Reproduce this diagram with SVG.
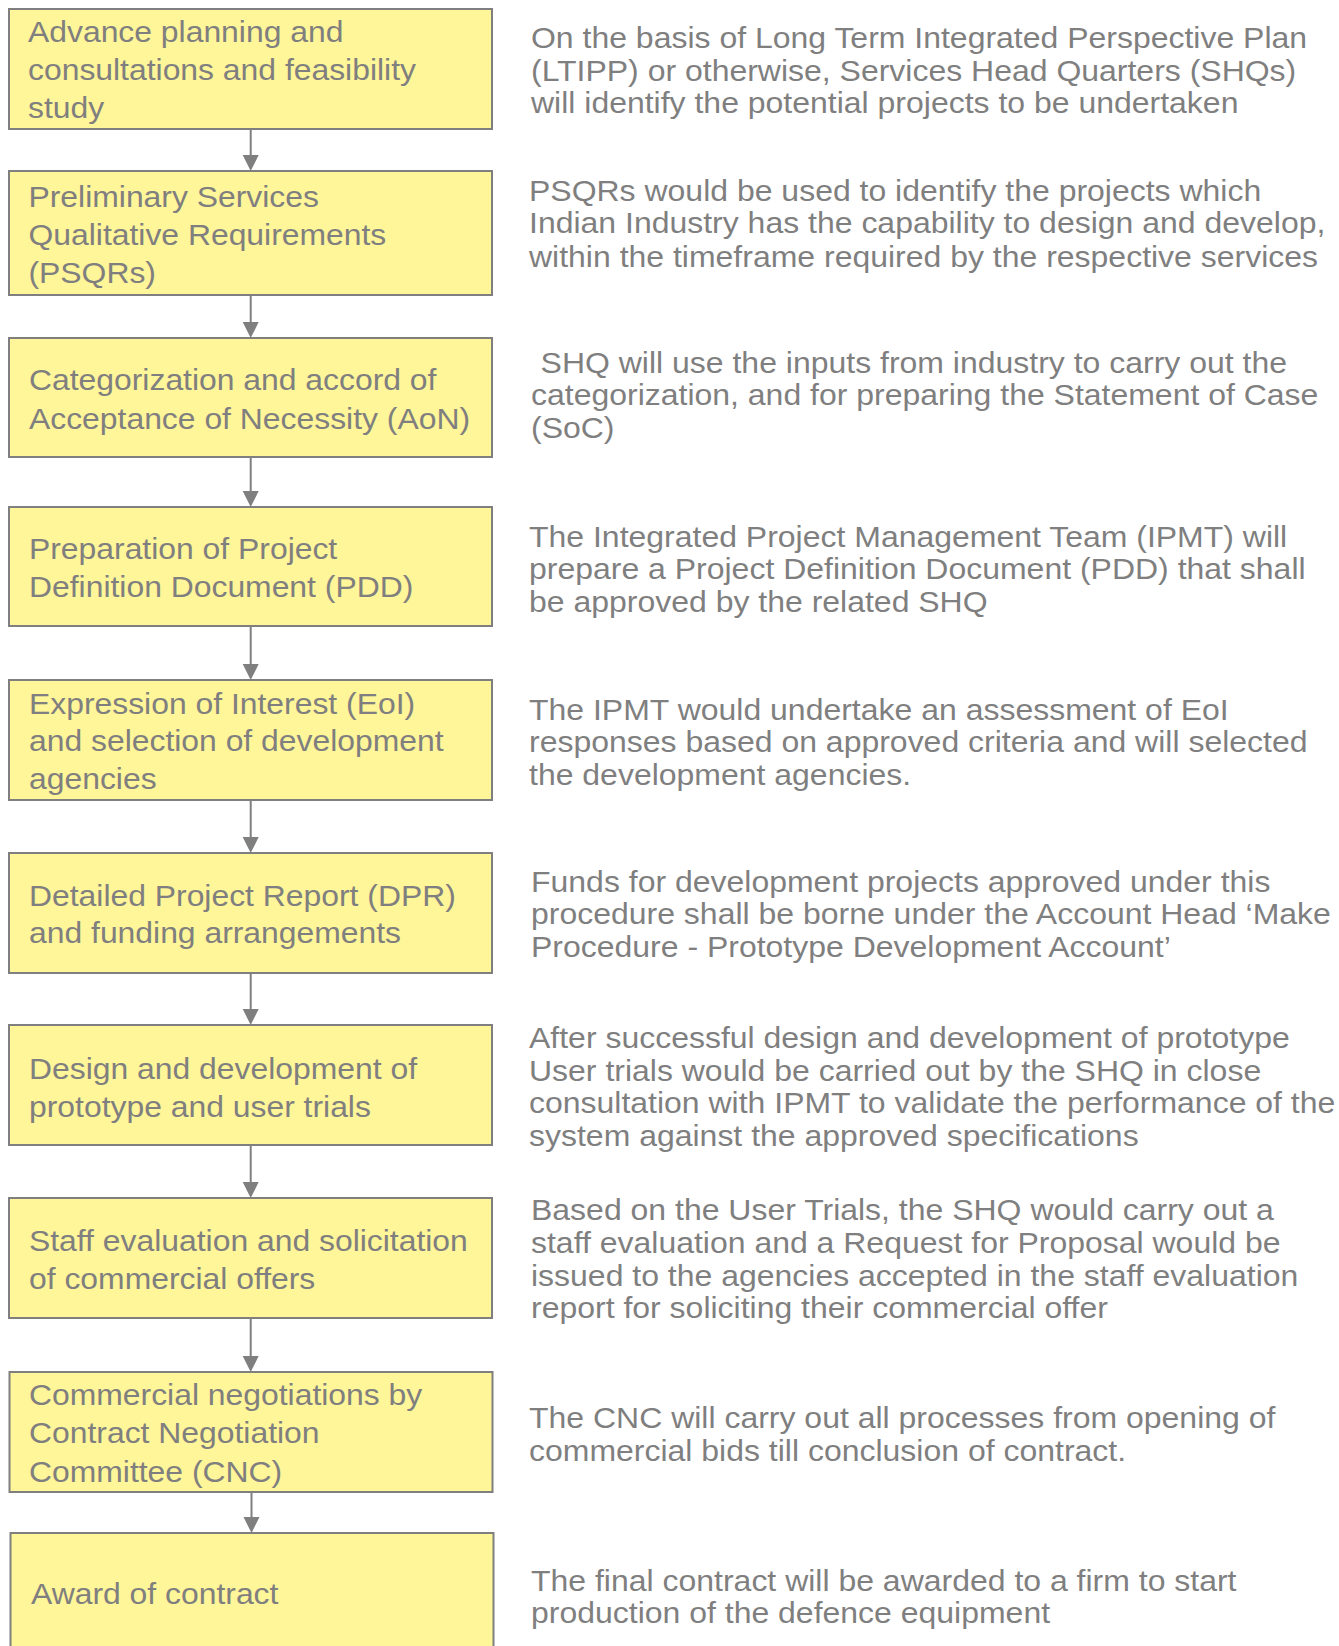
<svg xmlns="http://www.w3.org/2000/svg" width="1339" height="1646" viewBox="0 0 1339 1646">
<defs>
<style>
.box{fill:#FFF599;stroke:#7f7f7f;stroke-width:2}
.t{font-family:"Liberation Sans",Arial,sans-serif;font-size:30px;fill:#7f7f7f}
.c{stroke:#7f7f7f;stroke-width:2;fill:none}
.h{fill:#7f7f7f}
</style>
</defs>
<rect width="1339" height="1646" fill="#ffffff"/>
<g id="connectors">
<line class="c" x1="250.7" y1="129" x2="250.7" y2="157"/><path class="h" d="M242.7 155 L258.7 155 L250.7 171 Z"/>
<line class="c" x1="250.7" y1="295" x2="250.7" y2="324"/><path class="h" d="M242.7 322 L258.7 322 L250.7 338 Z"/>
<line class="c" x1="250.7" y1="457" x2="250.7" y2="493"/><path class="h" d="M242.7 491 L258.7 491 L250.7 507 Z"/>
<line class="c" x1="250.7" y1="626" x2="250.7" y2="666"/><path class="h" d="M242.7 664 L258.7 664 L250.7 680 Z"/>
<line class="c" x1="250.7" y1="800" x2="250.7" y2="839"/><path class="h" d="M242.7 837 L258.7 837 L250.7 853 Z"/>
<line class="c" x1="250.7" y1="973" x2="250.7" y2="1011"/><path class="h" d="M242.7 1009 L258.7 1009 L250.7 1025 Z"/>
<line class="c" x1="250.7" y1="1145" x2="250.7" y2="1184"/><path class="h" d="M242.7 1182 L258.7 1182 L250.7 1198 Z"/>
<line class="c" x1="250.7" y1="1318" x2="250.7" y2="1358"/><path class="h" d="M242.7 1356 L258.7 1356 L250.7 1372 Z"/>
<line class="c" x1="251.5" y1="1492" x2="251.5" y2="1519"/><path class="h" d="M243.5 1517 L259.5 1517 L251.5 1533 Z"/>
</g>
<g id="n1"><rect class="box" x="9" y="9" width="483" height="120"/>
<text class="t" transform="matrix(1.063 0 0 1 28 0)"><tspan x="0" y="41.7">Advance planning and</tspan><tspan x="0" y="80">consultations and feasibility</tspan><tspan x="0" y="118.3">study</tspan></text></g>
<g id="d1"><text class="t" transform="matrix(1.066 0 0 1 531 0)"><tspan x="0" y="48.4">On the basis of Long Term Integrated Perspective Plan</tspan><tspan x="0" y="81">(LTIPP) or otherwise, Services Head Quarters (SHQs)</tspan><tspan x="0" y="113.5">will identify the potential projects to be undertaken</tspan></text></g>

<g id="n2"><rect class="box" x="9" y="171" width="483" height="124"/>
<text class="t" transform="matrix(1.063 0 0 1 28.5 0)"><tspan x="0" y="207">Preliminary Services</tspan><tspan x="0" y="245">Qualitative Requirements</tspan><tspan x="0" y="283">(PSQRs)</tspan></text></g>
<g id="d2"><text class="t" transform="matrix(1.066 0 0 1 529 0)"><tspan x="0" y="200.6">PSQRs would be used to identify the projects which</tspan><tspan x="0" y="233.2">Indian Industry has the capability to design and develop,</tspan><tspan x="0" y="266.7">within the timeframe required by the respective services</tspan></text></g>

<g id="n3"><rect class="box" x="9" y="338" width="483" height="119"/>
<text class="t" transform="matrix(1.063 0 0 1 29 0)"><tspan x="0" y="390.4">Categorization and accord of</tspan><tspan x="0" y="429">Acceptance of Necessity (AoN)</tspan></text></g>
<g id="d3"><text class="t" transform="matrix(1.066 0 0 1 531 0)"><tspan x="9" y="373">SHQ will use the inputs from industry to carry out the</tspan><tspan x="0" y="405.5">categorization, and for preparing the Statement of Case</tspan><tspan x="0" y="438">(SoC)</tspan></text></g>

<g id="n4"><rect class="box" x="9" y="507" width="483" height="119"/>
<text class="t" transform="matrix(1.063 0 0 1 29 0)"><tspan x="0" y="559.3">Preparation of Project</tspan><tspan x="0" y="597.1">Definition Document (PDD)</tspan></text></g>
<g id="d4"><text class="t" transform="matrix(1.066 0 0 1 529 0)"><tspan x="0" y="547">The Integrated Project Management Team (IPMT) will</tspan><tspan x="0" y="579.5">prepare a Project Definition Document (PDD) that shall</tspan><tspan x="0" y="612">be approved by the related SHQ</tspan></text></g>

<g id="n5"><rect class="box" x="9" y="680" width="483" height="120"/>
<text class="t" transform="matrix(1.063 0 0 1 29 0)"><tspan x="0" y="713.6">Expression of Interest (EoI)</tspan><tspan x="0" y="751.4">and selection of development</tspan><tspan x="0" y="789.3">agencies</tspan></text></g>
<g id="d5"><text class="t" transform="matrix(1.066 0 0 1 529 0)"><tspan x="0" y="720">The IPMT would undertake an assessment of EoI</tspan><tspan x="0" y="752.5">responses based on approved criteria and will selected</tspan><tspan x="0" y="785">the development agencies.</tspan></text></g>

<g id="n6"><rect class="box" x="9" y="853" width="483" height="120"/>
<text class="t" transform="matrix(1.063 0 0 1 29 0)"><tspan x="0" y="905.6">Detailed Project Report (DPR)</tspan><tspan x="0" y="943.4">and funding arrangements</tspan></text></g>
<g id="d6"><text class="t" transform="matrix(1.066 0 0 1 531 0)"><tspan x="0" y="892">Funds for development projects approved under this</tspan><tspan x="0" y="924.5">procedure shall be borne under the Account Head ‘Make</tspan><tspan x="0" y="957">Procedure - Prototype Development Account’</tspan></text></g>

<g id="n7"><rect class="box" x="9" y="1025" width="483" height="120"/>
<text class="t" transform="matrix(1.063 0 0 1 29 0)"><tspan x="0" y="1078.8">Design and development of</tspan><tspan x="0" y="1116.6">prototype and user trials</tspan></text></g>
<g id="d7"><text class="t" transform="matrix(1.066 0 0 1 529 0)"><tspan x="0" y="1048.5">After successful design and development of prototype</tspan><tspan x="0" y="1081">User trials would be carried out by the SHQ in close</tspan><tspan x="0" y="1113.5">consultation with IPMT to validate the performance of the</tspan><tspan x="0" y="1146">system against the approved specifications</tspan></text></g>

<g id="n8"><rect class="box" x="9" y="1198" width="483" height="120"/>
<text class="t" transform="matrix(1.063 0 0 1 29 0)"><tspan x="0" y="1250.9">Staff evaluation and solicitation</tspan><tspan x="0" y="1288.7">of commercial offers</tspan></text></g>
<g id="d8"><text class="t" transform="matrix(1.066 0 0 1 531 0)"><tspan x="0" y="1220.5">Based on the User Trials, the SHQ would carry out a</tspan><tspan x="0" y="1253.5">staff evaluation and a Request for Proposal would be</tspan><tspan x="0" y="1286">issued to the agencies accepted in the staff evaluation</tspan><tspan x="0" y="1318.5">report for soliciting their commercial offer</tspan></text></g>

<g id="n9"><rect class="box" x="9.5" y="1372" width="483" height="120"/>
<text class="t" transform="matrix(1.063 0 0 1 29 0)"><tspan x="0" y="1405.2">Commercial negotiations by</tspan><tspan x="0" y="1443">Contract Negotiation</tspan><tspan x="0" y="1481.8">Committee (CNC)</tspan></text></g>
<g id="d9"><text class="t" transform="matrix(1.066 0 0 1 529 0)"><tspan x="0" y="1428.5">The CNC will carry out all processes from opening of</tspan><tspan x="0" y="1461">commercial bids till conclusion of contract.</tspan></text></g>

<g id="n10"><rect class="box" x="10.5" y="1533" width="483" height="130"/>
<text class="t" transform="matrix(1.063 0 0 1 31 0)"><tspan x="0" y="1604.5">Award of contract</tspan></text></g>
<g id="d10"><text class="t" transform="matrix(1.066 0 0 1 531 0)"><tspan x="0" y="1591">The final contract will be awarded to a firm to start</tspan><tspan x="0" y="1623.5">production of the defence equipment</tspan></text></g>
</svg>
